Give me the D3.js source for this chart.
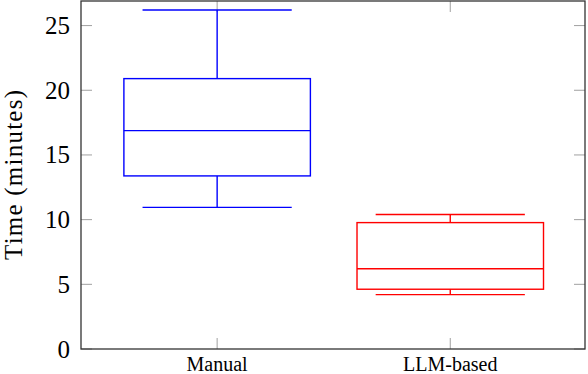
<!DOCTYPE html>
<html>
<head>
<meta charset="utf-8">
<script src="https://cdn.jsdelivr.net/npm/d3@7"></script>
<style>
  body { margin: 0; background: #fff; }
</style>
</head>
<body>
<svg id="chart"></svg>
<script>
// box plot data (minutes)
var groups = ["Manual", "LLM-based"];
var colors = ["#0000ff", "#ff0000"];
var lowWhisker = [10.95, 4.2];
var lowerQ = [13.38, 4.62];
var medians = [16.88, 6.2];
var upperQ = [20.9, 9.77];
var highWhisker = [26.2, 10.4];
var yTicks = [0, 5, 10, 15, 20, 25];

var W = 588, H = 374,
  margin = {left: 81, right: 3, top: 1, bottom: 25},
  serif = "'Liberation Serif'";

var svg = d3.select("#chart").attr("width", W).attr("height", H);

var x = d3.scaleLinear().domain([0.416, 2.578]).range([margin.left, W - margin.right]);
var y = d3.scaleLinear().domain([0, 26.9]).range([H - margin.bottom, margin.top]);

var data = groups.map(function (g, i) {
  return {name: g, pos: i + 1, color: colors[i], lo: lowWhisker[i], q1: lowerQ[i], med: medians[i], q3: upperQ[i], hi: highWhisker[i]};
});

// ticks (grey, inward on every side)
var tickLen = 11;
var tk = svg.append("g").attr("stroke", "#a0a0a0").attr("stroke-width", 1);
yTicks.forEach(function (t) {
  tk.append("line").attr("x1", x.range()[0]).attr("x2", x.range()[0] + tickLen).attr("y1", y(t)).attr("y2", y(t));
  tk.append("line").attr("x1", x.range()[1] - tickLen).attr("x2", x.range()[1]).attr("y1", y(t)).attr("y2", y(t));
});
data.forEach(function (d) {
  tk.append("line").attr("x1", x(d.pos)).attr("x2", x(d.pos)).attr("y1", y.range()[0]).attr("y2", y.range()[0] - tickLen);
  tk.append("line").attr("x1", x(d.pos)).attr("x2", x(d.pos)).attr("y1", y.range()[1]).attr("y2", y.range()[1] + tickLen);
});

// boxes
var boxW = 0.8, capW = 0.64;
var box = svg.selectAll("g.box").data(data).enter().append("g")
  .attr("class", "box")
  .attr("fill", "none")
  .attr("stroke", function (d) { return d.color })
  .attr("stroke-width", 1.4);
box.append("rect")
  .attr("x", function (d) { return x(d.pos - boxW / 2) })
  .attr("width", function (d) { return x(d.pos + boxW / 2) - x(d.pos - boxW / 2) })
  .attr("y", function (d) { return y(d.q3) })
  .attr("height", function (d) { return y(d.q1) - y(d.q3) });
box.append("line")
  .attr("x1", function (d) { return x(d.pos - boxW / 2) })
  .attr("x2", function (d) { return x(d.pos + boxW / 2) })
  .attr("y1", function (d) { return y(d.med) })
  .attr("y2", function (d) { return y(d.med) });
// whiskers
box.append("line")
  .attr("x1", function (d) { return x(d.pos) }).attr("x2", function (d) { return x(d.pos) })
  .attr("y1", function (d) { return y(d.q3) }).attr("y2", function (d) { return y(d.hi) });
box.append("line")
  .attr("x1", function (d) { return x(d.pos) }).attr("x2", function (d) { return x(d.pos) })
  .attr("y1", function (d) { return y(d.q1) }).attr("y2", function (d) { return y(d.lo) });
box.append("line")
  .attr("x1", function (d) { return x(d.pos - capW / 2) }).attr("x2", function (d) { return x(d.pos + capW / 2) })
  .attr("y1", function (d) { return y(d.hi) }).attr("y2", function (d) { return y(d.hi) });
box.append("line")
  .attr("x1", function (d) { return x(d.pos - capW / 2) }).attr("x2", function (d) { return x(d.pos + capW / 2) })
  .attr("y1", function (d) { return y(d.lo) }).attr("y2", function (d) { return y(d.lo) });

// frame
svg.append("rect")
  .attr("x", x.range()[0]).attr("y", y.range()[1])
  .attr("width", x.range()[1] - x.range()[0])
  .attr("height", y.range()[0] - y.range()[1])
  .attr("fill", "none").attr("stroke", "#333").attr("stroke-width", 1.3);

// tick labels
svg.append("g").selectAll("text").data(yTicks).enter().append("text")
  .attr("x", 70).attr("y", function (d) { return y(d) })
  .attr("dy", "0.34em")
  .attr("text-anchor", "end")
  .style("font-family", serif)
  .style("font-size", "25px")
  .text(function (d) { return d });
svg.append("g").selectAll("text").data(data).enter().append("text")
  .attr("x", function (d) { return x(d.pos) }).attr("y", 371)
  .attr("text-anchor", "middle")
  .style("font-family", serif)
  .style("font-size", "20px")
  .text(function (d) { return d.name });

// axis title
svg.append("text")
  .attr("transform", "translate(22," + ((y.range()[0] + y.range()[1]) / 2) + ") rotate(-90)")
  .attr("text-anchor", "middle")
  .style("font-family", serif)
  .style("font-size", "25px")
  .attr("textLength", 170).attr("lengthAdjust", "spacing")
  .text("Time (minutes)");
</script>
</body>
</html>
